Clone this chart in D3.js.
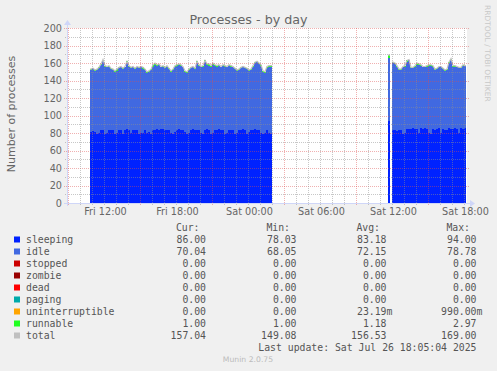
<!DOCTYPE html>
<html><head><meta charset="utf-8">
<script src="https://cdn.jsdelivr.net/npm/d3@7"></script>
<style>html,body{margin:0;padding:0;background:#f0f0f0;} svg{display:block}</style>
</head><body><svg id="c" width="497" height="371"></svg>
<script>
// ---- data (10-minute samples) ----
const seg1Start = new Date(2025, 6, 25, 10, 50);
const seg1Sleeping = [81,82,81,79,80,83,84,79,80,84,84,83,79,80,83,84,79,84,85,84,80,83,84,84,79,80,80,84,80,81,79,83,84,85,84,85,85,84,84,84,80,79,81,84,85,84,84,81,79,80,84,85,84,84,84,80,79,84,85,84,79,80,84,84,85,84,84,79,80,84,84,84,79,80,84,84,85,84,79,81,84,84,85,84,84,80,79,80,84,80,79];
const seg1Idle = [71,71,70,73,74,75,78,77,75,72,69,69,71,71,71,71,74,71,76,72,74,72,69,71,75,75,73,68,69,69,73,73,74,72,74,70,71,70,72,69,70,73,75,73,73,73,71,69,70,72,70,70,69,77,73,75,77,78,73,73,77,78,73,72,72,71,73,77,75,73,72,71,74,71,68,70,70,70,74,70,68,72,75,77,75,77,71,69,70,76,77];
const seg1Runnable = [1,1,1,1,1,1,2,1,1,1,1,1,1,2,1,1,1,1,1,1,1,1,1,1,1,1,2,1,1,1,1,2,2,1,1,1,1,1,1,1,1,1,1,1,1,1,1,1,1,1,1,1,1,1,1,1,1,1,1,2,1,2,1,1,1,1,1,1,1,1,1,1,1,1,1,1,1,1,1,1,1,1,1,1,1,1,1,1,2,1,1];
const seg1Total = [153,154,152,153,155,159,164,157,156,157,154,153,151,153,155,156,154,156,162,157,155,156,154,156,155,156,155,153,150,151,153,158,160,158,159,156,157,155,157,154,151,153,157,158,159,158,156,151,150,153,155,156,154,162,158,156,157,163,159,159,157,160,158,157,158,156,158,157,156,158,157,156,154,152,153,155,156,155,154,152,153,157,161,162,160,158,151,150,156,157,157];

const spikeStart = new Date(2025, 6, 26, 11, 40);
const spikeSleeping = [94];
const spikeIdle = [72];
const spikeRunnable = [2.97];
const spikeTotal = [169];

const seg2Start = new Date(2025, 6, 26, 12, 0);
const seg2Sleeping = [83,84,82,84,84,79,80,85,85,85,86,85,85,80,86,85,86,85,80,79,85,84,85,86,80,85,83,84,86,85,85,86,85,80,86,85,86];
const seg2Idle = [77,75,74,68,68,76,76,76,78,69,68,71,73,78,71,70,69,71,77,78,71,68,68,69,75,68,68,68,74,78,71,70,70,74,68,72,70.04];
const seg2Runnable = [1,1,1,1,1,1,1,2,1,1,1,1,2,1,1,1,1,1,1,1,1,1,1,1,1,1,1,1,1,2,1,1,1,1,1,1,1];
const seg2Total = [161,160,157,153,153,156,157,163,164,155,155,157,160,159,158,156,156,157,158,158,157,153,154,156,156,154,152,153,161,165,157,157,156,155,155,158,157.04];

const stepMinutes = 10;
const yTicks = [0,20,40,60,80,100,120,140,160,180,200];
const xLabelTimes = [new Date(2025,6,25,12,0), new Date(2025,6,25,18,0), new Date(2025,6,26,0,0), new Date(2025,6,26,6,0), new Date(2025,6,26,12,0), new Date(2025,6,26,18,0)];

const legendNames = ["sleeping","idle","stopped","zombie","dead","paging","uninterruptible","runnable","total"];
const legendColors = ["#0022ff","#4169e1","#cc0000","#990000","#ff0000","#00aaaa","#ffa500","#22ff22","#c0c0c0"];
const legendCur = ["86.00","70.04","0.00","0.00","0.00","0.00","0.00","1.00","157.04"];
const legendMin = ["78.03","68.05","0.00","0.00","0.00","0.00","0.00","1.00","149.08"];
const legendAvg = ["83.18","72.15","0.00","0.00","0.00","0.00","23.19m","1.18","156.53"];
const legendMax = ["94.00","78.78","0.00","0.00","0.00","0.00","990.00m","2.97","169.00"];

// ---- chart ----
const svg = d3.select("#c");
svg.append("rect").attr("width",497).attr("height",371).attr("fill","#f0f0f0");

const x = d3.scaleTime().domain([new Date(2025,6,25,8,55), new Date(2025,6,26,18,15)]).range([67,467]);
const y = d3.scaleLinear().domain([0,200]).range([203,28]);

svg.append("rect").attr("x",67).attr("y",28).attr("width",400).attr("height",175).attr("fill","#ffffff");

const stepMs = stepMinutes*60000;
function build(start, sl, idl, rn, tot){
  return sl.map((v,i)=>({t:new Date(start.getTime()+i*stepMs), sleeping:v, idle:idl[i], runnable:rn[i], total:tot[i]}));
}
const segments = [
  build(seg1Start, seg1Sleeping, seg1Idle, seg1Runnable, seg1Total),
  build(spikeStart, spikeSleeping, spikeIdle, spikeRunnable, spikeTotal),
  build(seg2Start, seg2Sleeping, seg2Idle, seg2Runnable, seg2Total)
];
const keys = ["sleeping","idle","runnable"];
const keyColor = {sleeping:"#0022ff", idle:"#4169e1", runnable:"#22ff22"};

const gData = svg.append("g");
segments.forEach(seg=>{
  const last = seg[seg.length-1];
  const closed = seg.concat([Object.assign({}, last, {t:new Date(last.t.getTime()+stepMs)})]);
  const stacked = d3.stack().keys(keys)(closed);
  stacked.forEach(layer=>{
    const area = d3.area().curve(d3.curveStepAfter)
      .x((d,i)=>x(closed[i].t)).y0(d=>y(d[0])).y1(d=>y(d[1]));
    gData.append("path").attr("d",area(layer)).attr("fill",keyColor[layer.key]).attr("shape-rendering","crispEdges");
  });
  // total line through sample centres
  const pts = [[x(seg[0].t), y(seg[0].total)]];
  seg.forEach(d=>pts.push([x(new Date(d.t.getTime()+stepMs/2)), y(d.total)]));
  pts.push([x(new Date(last.t.getTime()+stepMs)), y(last.total)]);
  gData.append("path").attr("d",d3.line()(pts)).attr("fill","none").attr("stroke","#c0c0c0").attr("stroke-width",1.2);
});

// ---- grid ----
const gGrid = svg.append("g").attr("shape-rendering","crispEdges");
const minorCol = "rgba(143,143,143,0.5)", majorCol = "rgba(222,79,79,0.45)";
d3.range(10,200,20).forEach(v=>{
  const yy = Math.round(y(v))+0.5;
  gGrid.append("line").attr("x1",65).attr("x2",467).attr("y1",yy).attr("y2",yy).attr("stroke",minorCol).attr("stroke-dasharray","1,1");
});
yTicks.slice(1).forEach(v=>{
  const yy = Math.round(y(v))+0.5;
  gGrid.append("line").attr("x1",64).attr("x2",469).attr("y1",yy).attr("y2",yy).attr("stroke",majorCol).attr("stroke-dasharray","1,1");
});
const hours = d3.timeHour.range(new Date(2025,6,25,9,0), new Date(2025,6,26,18,30));
hours.forEach(h=>{
  const xx = Math.round(x(h))+0.5;
  const major = h.getHours()%6===3;
  gGrid.append("line").attr("x1",xx).attr("x2",xx).attr("y1",28).attr("y2",major?206:205)
    .attr("stroke",major?majorCol:minorCol).attr("stroke-dasharray","1,1");
});

// ---- axes lines & arrows ----
const axisCol = "#CFD6F8";
svg.append("line").attr("x1",64).attr("x2",471).attr("y1",203.5).attr("y2",203.5).attr("stroke",axisCol);
svg.append("line").attr("x1",67.5).attr("x2",67.5).attr("y1",206).attr("y2",24).attr("stroke",axisCol);
svg.append("path").attr("d","M470,200 L475,203.5 L470,207 Z").attr("fill",axisCol);
svg.append("path").attr("d","M64,25 L67.5,20 L71,25 Z").attr("fill",axisCol);

// ---- axis labels ----
const font = "DejaVu Sans";
const textCol = "#666";
const yAxis = svg.append("g").attr("transform","translate(62,0)")
  .call(d3.axisLeft(y).tickValues(yTicks).tickSize(0).tickPadding(0));
yAxis.select(".domain").remove();
yAxis.selectAll("text").attr("font-family",font).attr("font-size","9.7px").attr("fill",textCol);

const xAxis = svg.append("g").attr("transform","translate(1,206)")
  .call(d3.axisBottom(x).tickValues(xLabelTimes).tickFormat(d3.timeFormat("%a %H:%M")).tickSize(0).tickPadding(2));
xAxis.select(".domain").remove();
xAxis.selectAll("text").attr("font-family",font).attr("font-size","9.7px").attr("fill",textCol);

svg.append("text").attr("x",248.5).attr("y",24).attr("text-anchor","middle")
  .attr("font-family",font).attr("font-size","12.7px").attr("fill",textCol).text("Processes - by day");

svg.append("text").attr("transform","translate(14.5,114) rotate(-90)").attr("text-anchor","middle")
  .attr("font-family",font).attr("font-size","11px").attr("fill",textCol).text("Number of processes");

svg.append("text").attr("transform","translate(485,5) rotate(90)").attr("text-anchor","start")
  .attr("font-family",font).attr("font-size","7.5px").attr("fill","#c8c8c8").text("RRDTOOL / TOBI OETIKER");

// ---- legend ----
const mono = "DejaVu Sans Mono";
const lg = svg.append("g").attr("font-family",mono).attr("font-size","9.8px").attr("fill","#555");
const colEnds = [206, 296.5, 386.5, 476.5];
const headers = ["Cur:","Min:","Avg:","Max:"];
headers.forEach((h,j)=>lg.append("text").attr("x",colEnds[j]-6.5).attr("y",231).attr("text-anchor","end").text(h));
const cols = [legendCur, legendMin, legendAvg, legendMax];
legendNames.forEach((name,i)=>{
  const by = 243 + 12*i;
  lg.append("rect").attr("x",14).attr("y",by-6.5).attr("width",6).attr("height",6).attr("fill",legendColors[i]);
  lg.append("text").attr("x",26).attr("y",by).text(name);
  cols.forEach((col,j)=>{
    const s = col[i];
    const m = s.match(/^([0-9.]+)(\D*)$/);
    lg.append("text").attr("x",colEnds[j]).attr("y",by).attr("text-anchor","end").text(m[1]);
    if (m[2]) lg.append("text").attr("x",colEnds[j]).attr("y",by).text(m[2]);
  });
});
lg.append("text").attr("x",476.5).attr("y",351).attr("text-anchor","end").text("Last update: Sat Jul 26 18:05:04 2025");

svg.append("text").attr("x",248).attr("y",362).attr("text-anchor","middle")
  .attr("font-family",font).attr("font-size","7.7px").attr("fill","#bbb").text("Munin 2.0.75");
</script></body></html>
